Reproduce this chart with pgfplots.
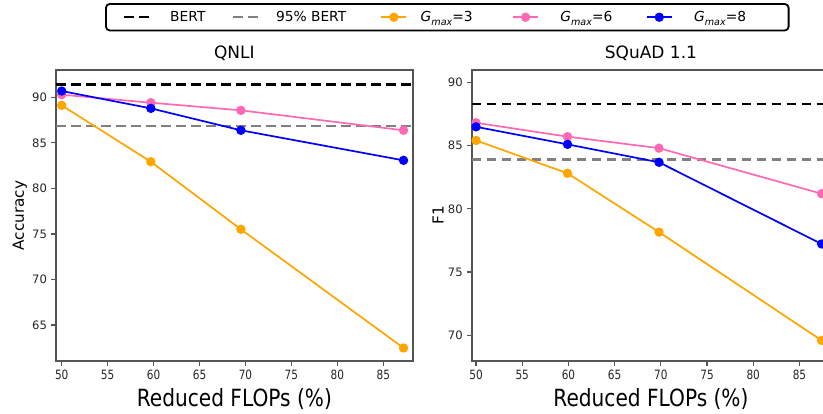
\documentclass[border=0pt]{standalone}
\usepackage{fontspec}
\setmainfont{DejaVu Sans}
\newfontfamily\condfont{DejaVu Sans}[FakeStretch=0.82]
\newfontfamily\xlabfont{DejaVu Sans}[FakeStretch=0.85]
\usepackage{pgfplots}
\pgfplotsset{compat=1.18}

\definecolor{gorange}{HTML}{FFA500}
\definecolor{gpink}{HTML}{FF69B4}
\definecolor{gblue}{HTML}{0000FF}
\definecolor{framec}{HTML}{555555}
\definecolor{ticktext}{HTML}{262626}

\newcommand{\gmax}[1]{\textit{G}\raisebox{-0.5ex}{\fontsize{4.8}{5}\selectfont\textit{max}}=#1}
\newcommand{\lentry}[3]{\makebox[#1][l]{\hspace*{#2}\strut #3}}

\pgfplotsset{
  panel/.style={
    scale only axis, height=145.5pt,
    anchor=south west,
    xtick={50,55,...,85},
    axis line style={draw=framec, line width=0.8pt},
    tick style={draw=framec, line width=0.6pt},
    tick align=outside, major tick length=2.5pt,
    xtick pos=left, ytick pos=left,
    /pgf/number format/assume math mode=true,
    xticklabel style={font=\condfont\fontsize{6.4}{7}\selectfont, text=ticktext, inner sep=0pt, anchor=north, yshift=-2pt},
    yticklabel style={font=\fontsize{5.8}{6.5}\selectfont, text=ticktext, inner sep=0pt, anchor=east, xshift=-1.8pt},
    xlabel style={font=\xlabfont\fontsize{11.84}{14}\selectfont, at={(axis description cs:0.5,0)}, anchor=north, inner sep=0pt, yshift=-13.6pt},
    ylabel style={font=\fontsize{7.6}{9}\selectfont, anchor=center, inner sep=0pt},
    title style={font=\fontsize{8.5}{10}\selectfont, at={(axis description cs:0.5,1)}, anchor=base, inner sep=0pt, yshift=-0.2pt},
    xlabel={Reduced FLOPs (\%)},
    mark size=1.9pt,
    legend image code/.code={\draw[mark repeat=2,mark phase=2,##1] plot coordinates {(0pt,0pt) (6.25pt,0pt) (12.5pt,0pt)};},
  },
  bert/.style={black, line width=1.15pt, dash pattern=on 4.75pt off 2.75pt, mark=none},
  bertf/.style={gray, line width=1.15pt, dash pattern=on 4.75pt off 2.75pt, mark=none},
  g3/.style={gorange, line width=0.85pt, mark=*, mark options={solid, fill=gorange, draw=gorange}},
  g6/.style={gpink, line width=0.85pt, mark=*, mark options={solid, fill=gpink, draw=gpink}},
  g8/.style={gblue, line width=0.85pt, mark=*, mark options={solid, fill=gblue, draw=gblue}},
}

\begin{document}
\begin{tikzpicture}
\useasboundingbox (0,0) rectangle (411.5pt,206.5pt);
\clip (0,0) rectangle (411.5pt,206.5pt);

% QNLI
\begin{axis}[panel,
  at={(28pt,26pt)}, width=178.35pt,
  xmin=49.38, xmax=88.2,
  ymin=61.05, ymax=93.0,
  ytick={65,70,...,90},
  title={QNLI},
  ylabel={Accuracy},
  ylabel style={at={(axis description cs:-0.101,0.5)}},
  legend columns=5,
  legend style={at={(axis description cs:0.1374,1.2302)}, anchor=north west,
    draw=black, line width=0.9pt, rounded corners=2pt,
    inner xsep=8.5pt, inner ysep=1pt,
    cells={anchor=west}, /tikz/column sep=0pt,
    font=\fontsize{6.9}{8.3}\selectfont},
]
\addplot[bert] coordinates {(49.38,91.4) (88.2,91.4)};
\addlegendentry{\lentry{37pt}{8pt}{BERT}}
\addplot[bertf] coordinates {(49.38,86.85) (88.2,86.85)};
\addlegendentry{\lentry{56.5pt}{6.25pt}{95\% BERT}}
\addplot[g3] coordinates {(50,89.12) (59.7,82.93) (69.5,75.51) (87.2,62.48)};
\addlegendentry{\lentry{48.5pt}{4.75pt}{\gmax{3}}}
\addplot[g6] coordinates {(50,90.29) (59.7,89.41) (69.5,88.57) (87.2,86.38)};
\addlegendentry{\lentry{49.5pt}{8.75pt}{\gmax{6}}}
\addplot[g8] coordinates {(50,90.69) (59.7,88.79) (69.5,86.38) (87.2,83.08)};
\addlegendentry{\lentry{45.5pt}{8.75pt}{\gmax{8}}}
\end{axis}

% SQuAD 1.1
\begin{axis}[panel,
  at={(235.85pt,26pt)}, width=179.25pt,
  xmin=49.53, xmax=88.33,
  ymin=67.95, ymax=91.0,
  ytick={70,75,...,90},
  title={SQuAD 1.1},
  ylabel={F1},
  ylabel style={at={(axis description cs:-0.094,0.5)}},
]
\addplot[bert] coordinates {(49.53,88.29) (88.33,88.29)};
\addplot[bertf] coordinates {(49.53,83.9) (88.33,83.9)};
\addplot[g3] coordinates {(50,85.42) (59.9,82.82) (69.8,78.16) (87.4,69.58)};
\addplot[g6] coordinates {(50,86.82) (59.9,85.72) (69.8,84.81) (87.4,81.2)};
\addplot[g8] coordinates {(50,86.5) (59.9,85.11) (69.8,83.69) (87.4,77.22)};
\end{axis}
\end{tikzpicture}
\end{document}
